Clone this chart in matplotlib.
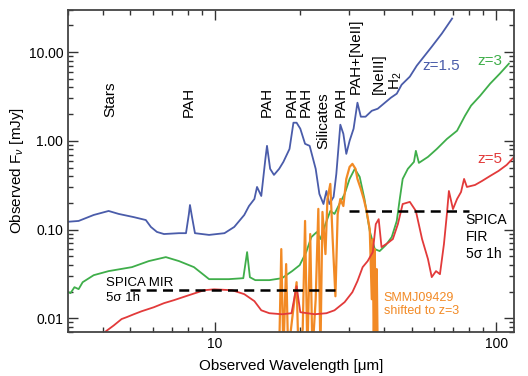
import numpy as np
import matplotlib
matplotlib.use("Agg")
import matplotlib.pyplot as plt
from matplotlib.ticker import FixedLocator, FixedFormatter, LogLocator, NullFormatter

plt.rcParams['font.family'] = ['Liberation Sans', 'DejaVu Sans']
plt.rcParams['mathtext.fontset'] = 'custom'
plt.rcParams['mathtext.rm'] = 'Liberation Sans'
plt.rcParams['mathtext.it'] = 'Liberation Sans:italic'

# z=1.5 template (blue)
wl_z15 = [2.96, 3.27, 3.70, 4.18, 4.54, 5.14, 5.67, 5.91, 6.21, 6.58, 7.44, 7.88,
          8.07, 8.14, 8.28, 8.48, 9.52, 10.8, 11.7, 12.7, 13.2, 13.8, 14.1, 14.6,
          15.1, 15.3, 15.7, 16.2, 16.9, 17.5, 18.4, 19.0, 19.5, 20.1, 20.9, 21.7,
          22.8, 23.5, 24.3, 24.9, 25.5, 26.4, 27.0, 27.9, 28.6, 29.3, 30.1, 31.1,
          32.1, 33.0, 34.3, 36.1, 37.9, 39.8, 42.2, 44.3, 46.1, 49.3, 52.2, 55.7,
          59.0, 64.1, 69.7]
f_z15 = [0.122, 0.125, 0.146, 0.162, 0.150, 0.138, 0.128, 0.107, 0.094, 0.089, 0.091, 0.091,
         0.150, 0.189, 0.138, 0.091, 0.087, 0.091, 0.107, 0.146, 0.184, 0.221, 0.302, 0.239,
         0.626, 0.878, 0.483, 0.413, 0.483, 0.579, 0.81, 1.60, 1.60, 1.37, 0.925, 0.878,
         0.483, 0.252, 0.194, 0.272, 0.194, 0.233, 0.424, 1.52, 1.20, 0.713, 1.00, 1.37,
         2.69, 1.87, 1.87, 2.18, 2.30, 2.62, 3.06, 3.40, 4.29, 5.29, 7.04, 9.13,
         11.5, 16.2, 23.9]

# z=3 template (green)
wl_z3 = [2.96, 3.06, 3.16, 3.27, 3.38, 3.70, 4.18, 5.06, 5.81, 6.68, 7.44, 8.41,
         9.14, 9.52, 11.2, 12.6, 13.0, 13.3, 13.9, 15.6, 17.3, 18.8, 20.0, 21.1,
         22.0, 23.0, 23.7, 24.7, 25.7, 26.6, 27.7, 28.9, 30.1, 31.4, 32.7, 34.0,
         35.5, 37.0, 38.5, 40.5, 42.5, 44.3, 45.4, 46.5, 48.5, 51.0, 51.8, 53.1,
         57.2, 61.5, 66.8, 72.6, 77.5, 81.4, 87.7, 95.2, 103, 111]
f_z3 = [0.0202, 0.0192, 0.0224, 0.0213, 0.0255, 0.0306, 0.0340, 0.0377, 0.0441, 0.0489, 0.0441, 0.0377,
        0.0306, 0.0276, 0.0276, 0.0283, 0.0557, 0.029, 0.0269, 0.0269, 0.0283, 0.034, 0.0397, 0.0557,
        0.0822, 0.0937, 0.0783, 0.115, 0.162, 0.150, 0.194, 0.252, 0.372, 0.483, 0.392, 0.221,
        0.0962, 0.0602, 0.0572, 0.0668, 0.0822, 0.125, 0.221, 0.372, 0.483, 0.579, 0.771, 0.564,
        0.659, 0.81, 1.05, 1.30, 1.92, 2.49, 3.22, 4.41, 5.71, 7.41]

# z=5 template (red)
wl_z5 = [4.08, 4.36, 4.65, 4.85, 5.14, 5.48, 6.05, 6.58, 7.14, 8.07, 9.14, 9.92,
         11.5, 12.7, 13.8, 14.6, 15.6, 17.3, 18.7, 19.5, 20.1, 22.6, 24.9, 26.6,
         28.9, 30.8, 32.1, 33.5, 34.9, 36.4, 37.3, 38.2, 39.1, 41.1, 42.9, 44.7,
         46.5, 49.3, 51.8, 54.5, 57.2, 59.0, 61.1, 63.1, 65.2, 66.8, 67.9, 70.2,
         72.6, 75.0, 76.9, 78.7, 84.1, 89.1, 95.2, 102, 109, 116]
f_z5 = [0.0071, 0.0083, 0.0098, 0.0103, 0.0111, 0.0120, 0.0133, 0.0148, 0.0160, 0.0182, 0.0207, 0.0212,
        0.0207, 0.0187, 0.0156, 0.0123, 0.0114, 0.0111, 0.0114, 0.0230, 0.0117, 0.0111, 0.0114, 0.0123,
        0.0152, 0.0197, 0.0262, 0.0377, 0.0441, 0.0557, 0.115, 0.131, 0.0634, 0.0703, 0.0781, 0.115,
        0.194, 0.205, 0.162, 0.0781, 0.0465, 0.0291, 0.034, 0.0314, 0.0686, 0.150, 0.272, 0.170,
        0.221, 0.265, 0.372, 0.302, 0.318, 0.353, 0.402, 0.458, 0.535, 0.659]

# SMMJ09429 shifted to z=3 (orange); 0.004 = dips below the plot floor
wl_smm = [16.9, 17.2, 17.5, 17.9, 18.2, 18.8, 19.5, 19.8, 20.5, 20.9, 21.3, 21.8,
          22.2, 22.8, 23.3, 23.7, 24.1, 24.7, 25.1, 25.7, 26.2, 26.8, 27.3, 27.9,
          28.6, 29.3, 30.1, 30.8, 31.6, 32.1, 33.0, 33.8, 34.6, 35.5, 36.1, 36.4,
          36.7, 37.0, 37.3, 37.6, 37.9]
f_smm = [0.004, 0.0602, 0.004, 0.0408, 0.004, 0.0098, 0.0255, 0.004, 0.0075, 0.125, 0.004, 0.089,
         0.004, 0.0164, 0.171, 0.004, 0.158, 0.0529, 0.221, 0.327, 0.0781, 0.0177, 0.150, 0.221,
         0.184, 0.372, 0.508, 0.550, 0.483, 0.372, 0.287, 0.221, 0.162, 0.101, 0.0164, 0.0781,
         0.004, 0.0602, 0.004, 0.0358, 0.004]

# SPICA 5 sigma 1h sensitivities
mir_range = [5.0, 28.0]
mir_level = 0.021
fir_range = [30.0, 80.0]
fir_level = 0.16

# spectral feature labels: (text, wavelength, flux at label bottom)
features = [("Stars", 4.25, 1.87), ("PAH", 8.07, 1.87), ("PAH", 15.3, 1.87),
            ("PAH", 18.8, 1.87), ("PAH", 21.1, 1.87), ("Silicates", 24.3, 0.81),
            ("PAH", 27.9, 1.87), ("PAH+[NeII]", 31.6, 3.4), ("[NeIII]", 38.2, 3.4),
            ("H$_2$", 44.0, 3.7)]

blue = '#4a5caa'
green = '#3fae4a'
red = '#e23a3a'
orange = '#f28a25'

fig = plt.figure(figsize=(5.28, 3.76), dpi=100)
ax = fig.add_axes([0.129, 0.117, 0.845, 0.857])

ax.plot(wl_z15, f_z15, color=blue, lw=1.3)
ax.plot(wl_z3, f_z3, color=green, lw=1.3)
ax.plot(wl_smm, f_smm, color=orange, lw=1.6)
ax.plot(wl_z5, f_z5, color=red, lw=1.3)
ax.plot(mir_range, [mir_level, mir_level], color='black', lw=1.8, ls=(0, (4, 2.5)))
ax.plot(fir_range, [fir_level, fir_level], color='black', lw=1.8, ls=(0, (4, 2.5)))

ax.set_xscale('log')
ax.set_yscale('log')
ax.set_xlim(3.0, 116)
ax.set_ylim(0.007, 30)

ax.yaxis.set_major_locator(FixedLocator([0.01, 0.1, 1, 10]))
ax.yaxis.set_major_formatter(FixedFormatter(['0.01', '0.10', '1.00', '10.00']))
ax.yaxis.set_minor_locator(LogLocator(base=10, subs=np.arange(2, 10)))
ax.yaxis.set_minor_formatter(NullFormatter())
ax.xaxis.set_major_locator(FixedLocator([10, 100]))
ax.xaxis.set_major_formatter(FixedFormatter(['10', '100']))
ax.xaxis.set_minor_locator(LogLocator(base=10, subs=np.arange(2, 10)))
ax.xaxis.set_minor_formatter(NullFormatter())

ax.tick_params(which='both', direction='in', top=True, right=True, colors='#333333',
               labelcolor='black', labelsize=10, width=1.0)
ax.tick_params(which='major', length=7)
ax.tick_params(which='minor', length=3.5)
for sp in ax.spines.values():
    sp.set_color('#444444')
    sp.set_linewidth(1.3)

ax.set_xlabel('Observed Wavelength [\u03bcm]', fontsize=11, labelpad=6)
ax.set_ylabel(r'Observed F$_\nu$ [mJy]', fontsize=11, labelpad=2)

for txt, wl, fl in features:
    ax.text(wl, fl, txt, rotation=90, ha='center', va='bottom', fontsize=11)

ax.text(63.7, 6.9, 'z=1.5', color=blue, ha='center', va='center', fontsize=11)
ax.text(95, 8.0, 'z=3', color=green, ha='center', va='center', fontsize=11)
ax.text(95, 0.63, 'z=5', color=red, ha='center', va='center', fontsize=11)

ax.text(4.1, 0.0205, 'SPICA MIR\n5\u03c3 1h', ha='left', va='center', fontsize=9.5,
        linespacing=1.4)
ax.text(78, 0.082, 'SPICA\nFIR\n5\u03c3 1h', ha='left', va='center', fontsize=10,
        linespacing=1.25)
ax.text(39.8, 0.0144, 'SMMJ09429\nshifted to z=3', color=orange, ha='left', va='center',
        fontsize=9, linespacing=1.15)

fig.savefig('out.png', dpi=100)
